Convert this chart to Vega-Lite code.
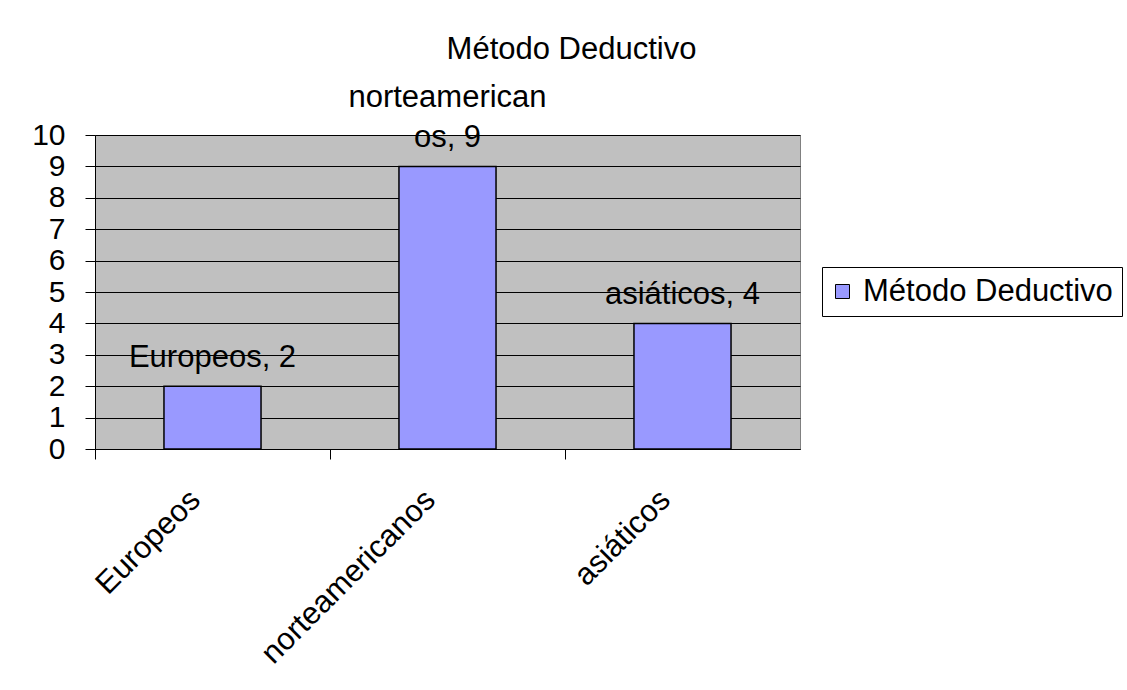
{
  "$schema": "https://vega.github.io/schema/vega-lite/v6.json",
  "autosize": {"type": "none"},
  "width": 705,
  "height": 314,
  "padding": {"left": 95, "top": 135, "right": 327, "bottom": 241},
  "background": "white",
  "config": {
    "font": "Liberation Sans",
    "view": {"fill": "#c0c0c0", "stroke": "#808080", "strokeWidth": 1}
  },
  "title": {
    "text": "Método Deductivo",
    "fontSize": 31,
    "fontWeight": "normal",
    "color": "black",
    "font": "Liberation Sans",
    "anchor": "middle",
    "dx": 124,
    "baseline": "alphabetic",
    "offset": -8
  },
  "data": {
    "values": [
      {"region": "Europeos", "value": 2, "series": "Método Deductivo", "label": ["", "Europeos, 2"]},
      {"region": "norteamericanos", "value": 9, "series": "Método Deductivo", "label": ["norteamerican", "os, 9"]},
      {"region": "asiáticos", "value": 4, "series": "Método Deductivo", "label": ["", "asiáticos, 4"]}
    ]
  },
  "encoding": {
    "x": {
      "field": "region",
      "type": "nominal",
      "sort": null,
      "scale": {"paddingInner": 0, "paddingOuter": 0},
      "axis": {
        "title": null,
        "bandPosition": 0,
        "labelAngle": -45,
        "labelAlign": "right",
        "labelBaseline": "middle",
        "labelOffset": -17,
        "labelPadding": 36,
        "labelFontSize": 31,
        "labelColor": "black",
        "labelFont": "Liberation Sans",
        "labelOverlap": false,
        "labelLimit": 0,
        "labelBound": false,
        "tickSize": 10,
        "tickColor": "black",
        "domainColor": "black",
        "grid": false
      }
    },
    "y": {
      "field": "value",
      "type": "quantitative",
      "scale": {"domain": [0, 10], "nice": false},
      "axis": {
        "title": null,
        "values": [0, 1, 2, 3, 4, 5, 6, 7, 8, 9, 10],
        "labelFontSize": 30,
        "labelColor": "black",
        "labelFont": "Liberation Sans",
        "labelPadding": 20,
        "labelOverlap": false,
        "labelBound": false,
        "tickSize": 10,
        "tickColor": "black",
        "domainColor": "black",
        "grid": true,
        "gridColor": "black",
        "gridOpacity": 1,
        "gridWidth": 1
      }
    }
  },
  "layer": [
    {
      "mark": {"type": "bar", "width": {"band": 0.413}, "stroke": "black", "strokeWidth": 1.5},
      "encoding": {
        "color": {
          "field": "series",
          "type": "nominal",
          "scale": {"range": ["#9999ff"]},
          "legend": {
            "title": null,
            "orient": "none",
            "legendX": 727,
            "legendY": 132,
            "direction": "vertical",
            "padding": 9,
            "symbolOffset": -4,
            "strokeColor": "black",
            "fillColor": "white",
            "symbolType": "square",
            "symbolSize": 196,
            "symbolStrokeColor": "black",
            "symbolStrokeWidth": 1,
            "symbolOpacity": 1,
            "labelFontSize": 31,
            "labelFont": "Liberation Sans",
            "labelColor": "black",
            "labelOffset": 5,
            "labelLimit": 0
          }
        }
      }
    },
    {
      "mark": {"type": "text", "fontSize": 31, "font": "Liberation Sans", "color": "black", "baseline": "alphabetic", "dy": -59, "lineHeight": 40},
      "encoding": {
        "text": {"field": "label"}
      }
    }
  ]
}
